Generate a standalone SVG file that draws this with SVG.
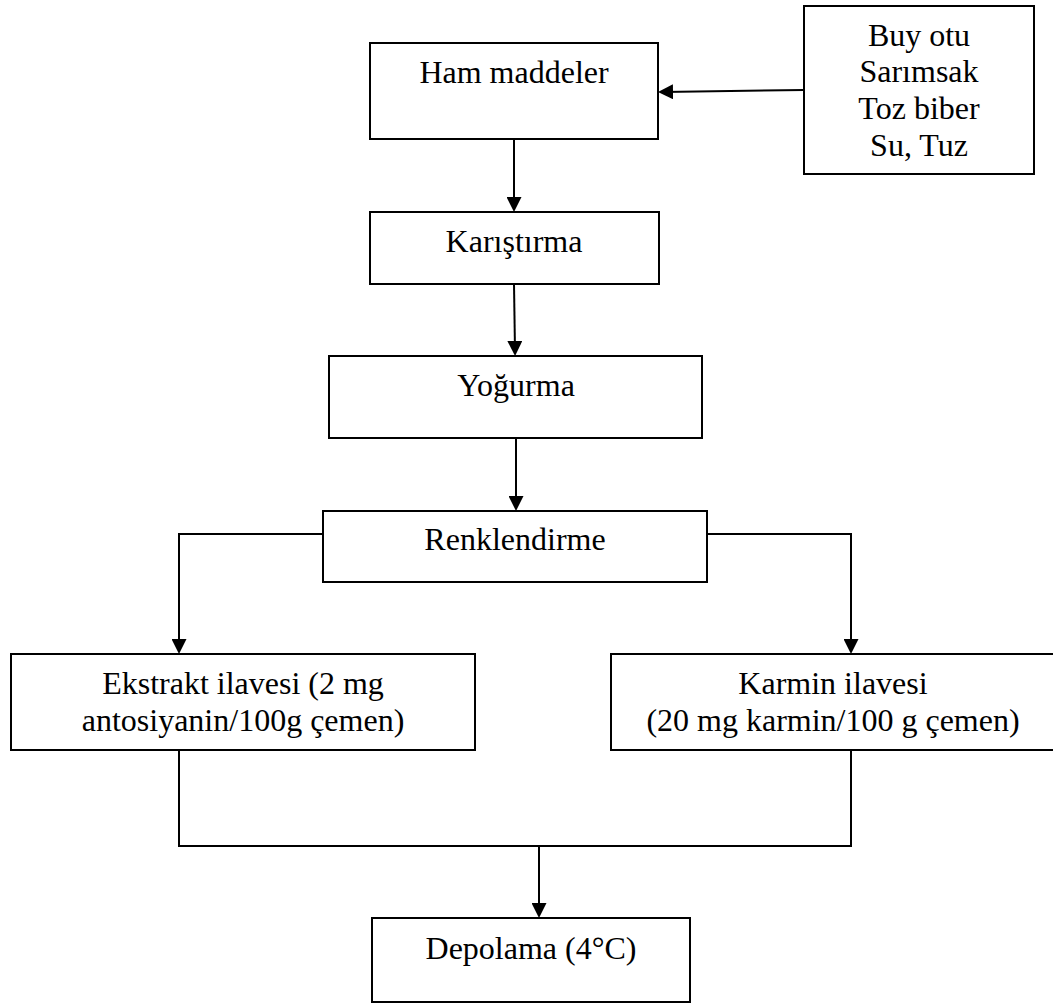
<svg xmlns="http://www.w3.org/2000/svg" width="1053" height="1003" viewBox="0 0 1053 1003">
  <style>
    .box { fill: #fff; stroke: #000; stroke-width: 2; }
    .lbl { font-family: "Liberation Serif", "Times New Roman", serif; font-size: 32px; fill: #000; text-anchor: middle; }
    .wire { fill: none; stroke: #000; stroke-width: 2; }
  </style>
  <defs>
    <!-- solid triangular head; the tip lands 5px past the path end -->
    <marker id="head" markerUnits="userSpaceOnUse" markerWidth="15" markerHeight="15" refX="10" refY="7.5" orient="auto">
      <path d="M0,0 L15,7.5 L0,15 Z" fill="#000"/>
    </marker>
  </defs>

  <rect width="1053" height="1003" fill="#fff"/>

  <g id="connectors">
    <path class="wire" d="M804,90 L663,92" marker-end="url(#head)"/>
    <path class="wire" d="M514,139 L514,207" marker-end="url(#head)"/>
    <path class="wire" d="M514,284 L515,351" marker-end="url(#head)"/>
    <path class="wire" d="M516,438 L516,506" marker-end="url(#head)"/>
    <path class="wire" d="M323,534 L179,534 L179,649" marker-end="url(#head)"/>
    <path class="wire" d="M707,534 L851,534 L851,649" marker-end="url(#head)"/>
    <path class="wire" d="M179,750 L179,846 L851,846 L851,750"/>
    <path class="wire" d="M539,846 L539,913" marker-end="url(#head)"/>
  </g>

  <g id="ham-maddeler">
    <rect class="box" x="370" y="43" width="288" height="96"/>
    <text class="lbl" x="514" y="83">Ham maddeler</text>
  </g>

  <g id="katkilar">
    <rect class="box" x="804" y="6" width="230" height="168"/>
    <text class="lbl" x="919" y="46">Buy otu</text>
    <text class="lbl" x="919" y="82">Sarımsak</text>
    <text class="lbl" x="919" y="119">Toz biber</text>
    <text class="lbl" x="919" y="156">Su, Tuz</text>
  </g>

  <g id="karistirma">
    <rect class="box" x="370" y="212" width="289" height="72"/>
    <text class="lbl" x="514" y="252">Karıştırma</text>
  </g>

  <g id="yogurma">
    <rect class="box" x="329" y="356" width="373" height="82"/>
    <text class="lbl" x="516" y="396">Yoğurma</text>
  </g>

  <g id="renklendirme">
    <rect class="box" x="323" y="511" width="384" height="71"/>
    <text class="lbl" x="515" y="550">Renklendirme</text>
  </g>

  <g id="ekstrakt">
    <rect class="box" x="11" y="654" width="464" height="96"/>
    <text class="lbl" x="243" y="694">Ekstrakt ilavesi (2 mg</text>
    <text class="lbl" x="243" y="731">antosiyanin/100g çemen)</text>
  </g>

  <g id="karmin">
    <rect class="box" x="611" y="654" width="446" height="96"/>
    <text class="lbl" x="833" y="694">Karmin ilavesi</text>
    <text class="lbl" x="833" y="731">(20 mg karmin/100 g çemen)</text>
  </g>

  <g id="depolama">
    <rect class="box" x="372" y="918" width="318" height="84"/>
    <text class="lbl" x="531" y="959">Depolama (4°C)</text>
  </g>
</svg>
